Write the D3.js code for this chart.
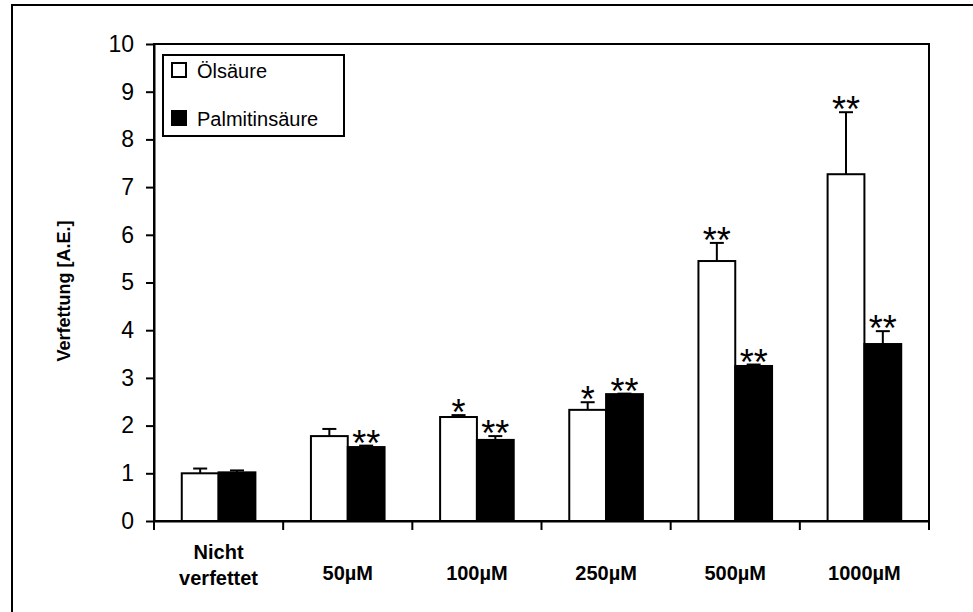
<!DOCTYPE html>
<html>
<head>
<meta charset="utf-8">
<script src="https://cdn.jsdelivr.net/npm/d3@7"></script>
<style>
  body { margin: 0; background: #fff; }
  text { font-family: Arial, "Liberation Sans", sans-serif; fill: #000; }
</style>
</head>
<body>
<svg id="chart"></svg>
<script>
// categories (x axis), "\n" = line break
const CATEGORIES = ["Nicht\nverfettet", "50µM", "100µM", "250µM", "500µM", "1000µM"];
const SERIES = ["Ölsäure", "Palmitinsäure"];

// means and upper error (mean + SD)
const OEL_VALUES = [1.0, 1.78, 2.18, 2.33, 5.45, 7.27];
const OEL_ERR    = [0.10, 0.15, 0.04, 0.16, 0.38, 1.30];
const PAL_VALUES = [1.02, 1.55, 1.70, 2.66, 3.25, 3.71];
const PAL_ERR    = [0.04, 0.03, 0.08, 0.01, 0.03, 0.27];

// significance marks
const OEL_SIG = ["", "", "*", "*", "**", "**"];
const PAL_SIG = ["", "**", "**", "**", "**", "**"];

const Y_TICKS = [0, 1, 2, 3, 4, 5, 6, 7, 8, 9, 10];

const WIDTH = 973, HEIGHT = 612;
const PLOT = {left: 154, right: 929, top: 44, bottom: 521};

const svg = d3.select('#chart')
    .attr('width', WIDTH)
    .attr('height', HEIGHT);

// outer chart frame (runs off the picture on right / bottom)
svg.append('rect')
    .attr('x', 12).attr('y', 5)
    .attr('width', WIDTH).attr('height', HEIGHT)
    .attr('fill', 'none').attr('stroke', '#000').attr('stroke-width', 2);

const x = d3.scaleBand().domain(CATEGORIES).range([PLOT.left, PLOT.right]).padding(0);
const inner = x.bandwidth() * 0.215;
const x1 = d3.scaleBand().domain(SERIES).range([inner, x.bandwidth() - inner]).padding(0);
const y = d3.scaleLinear().domain([0, 10]).range([PLOT.bottom, PLOT.top]);

// plot area border
svg.append('rect')
    .attr('x', PLOT.left).attr('y', PLOT.top)
    .attr('width', PLOT.right - PLOT.left).attr('height', PLOT.bottom - PLOT.top)
    .attr('fill', 'none').attr('stroke', '#000').attr('stroke-width', 2);

// y axis
const yAxis = svg.append('g')
    .attr('transform', `translate(${PLOT.left},0)`)
    .call(d3.axisLeft(y).tickValues(Y_TICKS).tickSize(8).tickSizeOuter(0).tickPadding(12));
yAxis.selectAll('path, line').attr('stroke', '#000').attr('stroke-width', 2);
yAxis.selectAll('text')
    .style('font-family', 'Arial, "Liberation Sans", sans-serif')
    .style('font-size', '23px')
    .attr('fill', '#000');

// x axis line + ticks on category boundaries
const xAxis = svg.append('g')
    .attr('transform', `translate(0,${PLOT.bottom})`)
    .call(d3.axisBottom(x).tickSize(0).tickSizeOuter(0).tickFormat(''));
xAxis.select('path').attr('stroke', '#000').attr('stroke-width', 2);
const bounds = CATEGORIES.map(c => x(c)).concat([x.range()[1]]);
svg.append('g').selectAll('line')
    .data(bounds)
    .enter()
    .append('line')
    .attr('x1', d => d).attr('x2', d => d)
    .attr('y1', PLOT.bottom).attr('y2', PLOT.bottom + 9)
    .attr('stroke', '#000').attr('stroke-width', 2);

// category labels
const labels = svg.append('g').selectAll('text')
    .data(CATEGORIES)
    .enter()
    .append('text')
    .attr('text-anchor', 'middle')
    .attr('font-weight', 'bold')
    .attr('font-size', 20);
labels.each(function(d) {
    const lines = d.split('\n');
    const cx = x(d) + x.bandwidth() / 2;
    const t = d3.select(this);
    lines.forEach((ln, i) => {
        t.append('tspan')
            .attr('x', cx)
            .attr('y', lines.length > 1 ? 559 + i * 26 : 580)
            .text(ln);
    });
});

// y axis title
svg.append('text')
    .attr('transform', 'translate(70,291) rotate(-90)')
    .attr('text-anchor', 'middle')
    .attr('font-weight', 'bold')
    .attr('font-size', 18)
    .text('Verfettung [A.E.]');

// bars
const rows = CATEGORIES.map((c, i) => [
    {cat: c, s: SERIES[0], v: OEL_VALUES[i], e: OEL_ERR[i], sig: OEL_SIG[i], fill: '#fff'},
    {cat: c, s: SERIES[1], v: PAL_VALUES[i], e: PAL_ERR[i], sig: PAL_SIG[i], fill: '#000'}
]).flat();

const bx = d => x(d.cat) + x1(d.s);
const bc = d => bx(d) + x1.bandwidth() / 2;

// error bars (upper only)
svg.append('g').selectAll('line')
    .data(rows)
    .enter()
    .append('line')
    .attr('x1', bc).attr('x2', bc)
    .attr('y1', d => y(d.v)).attr('y2', d => y(d.v + d.e))
    .attr('stroke', '#000').attr('stroke-width', 2);
svg.append('g').selectAll('line')
    .data(rows)
    .enter()
    .append('line')
    .attr('x1', d => bc(d) - 7).attr('x2', d => bc(d) + 7)
    .attr('y1', d => y(d.v + d.e)).attr('y2', d => y(d.v + d.e))
    .attr('stroke', '#000').attr('stroke-width', 2);

svg.append('g').selectAll('.bar')
    .data(rows)
    .enter()
    .append('rect')
    .classed('bar', true)
    .attr('x', bx)
    .attr('width', x1.bandwidth())
    .attr('y', d => y(d.v))
    .attr('height', d => y(0) - y(d.v))
    .attr('fill', d => d.fill)
    .attr('stroke', '#000').attr('stroke-width', 2);

// significance stars
svg.append('g').selectAll('text')
    .data(rows.filter(d => d.sig))
    .enter()
    .append('text')
    .attr('x', bc)
    .attr('y', d => y(d.v + d.e) + 10)
    .attr('text-anchor', 'middle')
    .attr('font-size', 36)
    .text(d => d.sig);

// legend
const legend = svg.append('g');
legend.append('rect')
    .attr('x', 163).attr('y', 55).attr('width', 181).attr('height', 81)
    .attr('fill', '#fff').attr('stroke', '#000').attr('stroke-width', 2);
const leg = legend.selectAll('g')
    .data(SERIES)
    .enter()
    .append('g')
    .attr('transform', (d, i) => `translate(172,${63 + i * 48})`);
leg.append('rect')
    .attr('width', 14).attr('height', 14)
    .attr('fill', (d, i) => i === 0 ? '#fff' : '#000')
    .attr('stroke', '#000').attr('stroke-width', 2);
leg.append('text')
    .attr('x', 25).attr('y', 15)
    .attr('font-size', 20)
    .text(d => d);
</script>
</body>
</html>
